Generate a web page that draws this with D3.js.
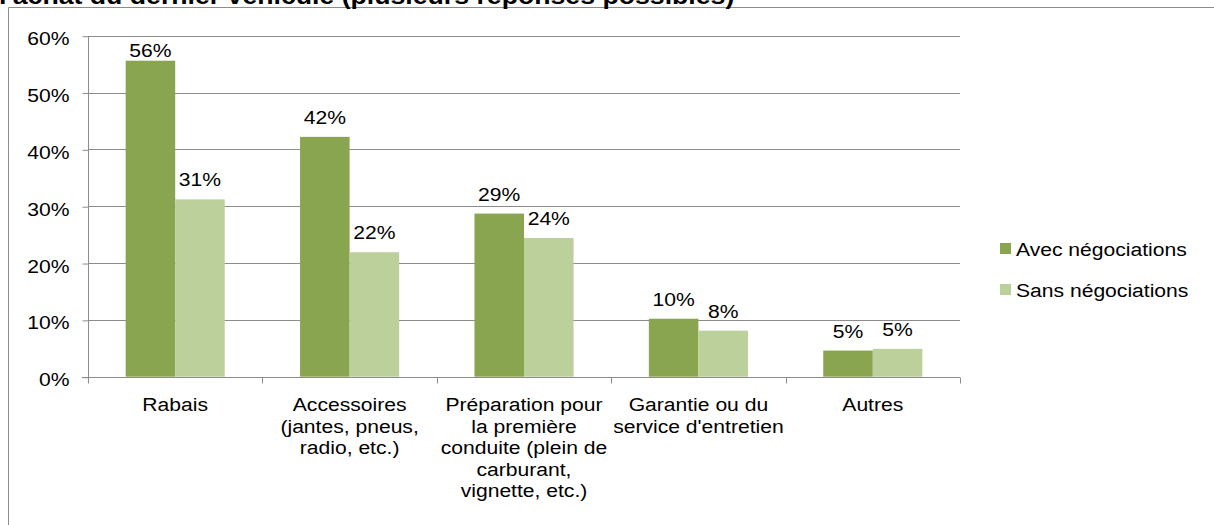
<!DOCTYPE html>
<html>
<head>
<meta charset="utf-8">
<script src="https://cdn.jsdelivr.net/npm/d3@7"></script>
<style>
body { margin: 0; background: #fff; }
svg { display: block; }
text { font-family: "Liberation Sans", Arial, sans-serif; fill: #000; }
</style>
</head>
<body>
<script>
// data
const categories = ["Rabais", "Accessoires", "Préparation", "Garantie", "Autres"];
const catLines = [
  ["Rabais"],
  ["Accessoires", "(jantes, pneus,", "radio, etc.)"],
  ["Préparation pour", "la première", "conduite (plein de", "carburant,", "vignette, etc.)"],
  ["Garantie ou du", "service d'entretien"],
  ["Autres"]
];
const series = ["Avec négociations", "Sans négociations"];
const avec = [0.556, 0.422, 0.287, 0.102, 0.046];
const sans = [0.312, 0.219, 0.244, 0.081, 0.049];
const yTicks = [0, 0.1, 0.2, 0.3, 0.4, 0.5, 0.6];
const title = "l'achat du dernier véhicule (plusieurs réponses possibles)";

const colors = ["#8aa54f", "#bbd09a"];
const fs = 18.6;   // font size
const sx = 1.135;  // text is a bit wider than tall in the picture

var svg = d3.select("body").append("svg")
  .attr("width", 1214)
  .attr("height", 525);

// put a text at x,y and widen it
function place(t, x, y) {
  t.attr("x", null).attr("y", null).attr("dy", null)
   .attr("transform", "translate(" + x + "," + y + ") scale(" + sx + ",1)");
}

// frame
svg.append("path")
  .attr("d", "M8.5,525V7.5H1214")
  .attr("fill", "none")
  .attr("stroke", "#8c8c8c");

// title (cut at the top)
place(svg.append("text")
  .style("font-size", "23.5px")
  .style("font-weight", "bold")
  .text(title), -1, 4);

const x0 = d3.scaleBand().domain(categories).range([88, 960]);
const x1 = d3.scaleBand().domain(series).range([0, x0.bandwidth()]).paddingOuter(0.76);
const y = d3.scaleLinear().domain([0, 0.6]).range([376.7, 35.7]);
const pct = d3.format(".0%");

// grid
svg.append("g").selectAll("line")
  .data(yTicks.slice(1))
  .join("line")
  .attr("x1", 88).attr("x2", 960)
  .attr("y1", d => Math.round(y(d)) + 0.5)
  .attr("y2", d => Math.round(y(d)) + 0.5)
  .attr("stroke", "#8c8c8c");

// y axis
var ya = svg.append("g")
  .attr("transform", "translate(88.5,0.5)")
  .call(d3.axisLeft(y).tickValues(yTicks).tickFormat(pct).tickSize(6).tickPadding(13));
ya.selectAll("line,path").attr("stroke", "#8c8c8c");
ya.select(".domain").attr("d", "M0," + y(0.6) + "V" + y(0));
ya.selectAll("text")
  .attr("font-family", null).attr("font-size", null)
  .style("font-size", fs + "px").attr("fill", "#000")
  .each(function () { place(d3.select(this), -19, 8.5); });

// bars
var groups = svg.append("g").selectAll("g")
  .data(categories)
  .join("g")
  .attr("transform", d => "translate(" + x0(d) + ",0)");

var vals = (d, i) => [avec[i], sans[i]].map((v, k) => ({ s: series[k], v: v, k: k }));

groups.selectAll("rect")
  .data(vals)
  .join("rect")
  .attr("x", d => x1(d.s))
  .attr("width", x1.bandwidth())
  .attr("y", d => y(d.v))
  .attr("height", d => y(0) - y(d.v))
  .attr("fill", d => colors[d.k]);

// data labels
groups.selectAll("text")
  .data(vals)
  .join("text")
  .attr("text-anchor", "middle")
  .style("font-size", fs + "px")
  .text(d => pct(d.v))
  .each(function (d) {
    place(d3.select(this), x1(d.s) + x1.bandwidth() / 2, Math.max(y(d.v) - 13, 56.7));
  });

// x axis
const edges = categories.map(c => x0(c)).concat([x0.range()[1]]);
svg.append("line")
  .attr("x1", 82).attr("x2", 960)
  .attr("y1", 377.5).attr("y2", 377.5)
  .attr("stroke", "#8c8c8c");
svg.append("g").selectAll("line")
  .data(edges)
  .join("line")
  .attr("x1", d => Math.round(d) + 0.5).attr("x2", d => Math.round(d) + 0.5)
  .attr("y1", 377.5).attr("y2", 383.5)
  .attr("stroke", "#8c8c8c");

// category labels
categories.forEach((c, i) => {
  catLines[i].forEach((ln, j) => {
    place(svg.append("text")
      .attr("text-anchor", "middle")
      .style("font-size", fs + "px")
      .text(ln), x0(c) + x0.bandwidth() / 2, 411 + j * 21.5);
  });
});

// legend
var leg = svg.append("g").selectAll("g")
  .data(series)
  .join("g")
  .attr("transform", (d, i) => "translate(1000," + (243 + i * 41) + ")");
leg.append("rect")
  .attr("width", 11).attr("height", 11)
  .attr("fill", (d, i) => colors[i]);
leg.append("text")
  .style("font-size", fs + "px")
  .text(d => d)
  .each(function () { place(d3.select(this), 16, 13); });
</script>
</body>
</html>
